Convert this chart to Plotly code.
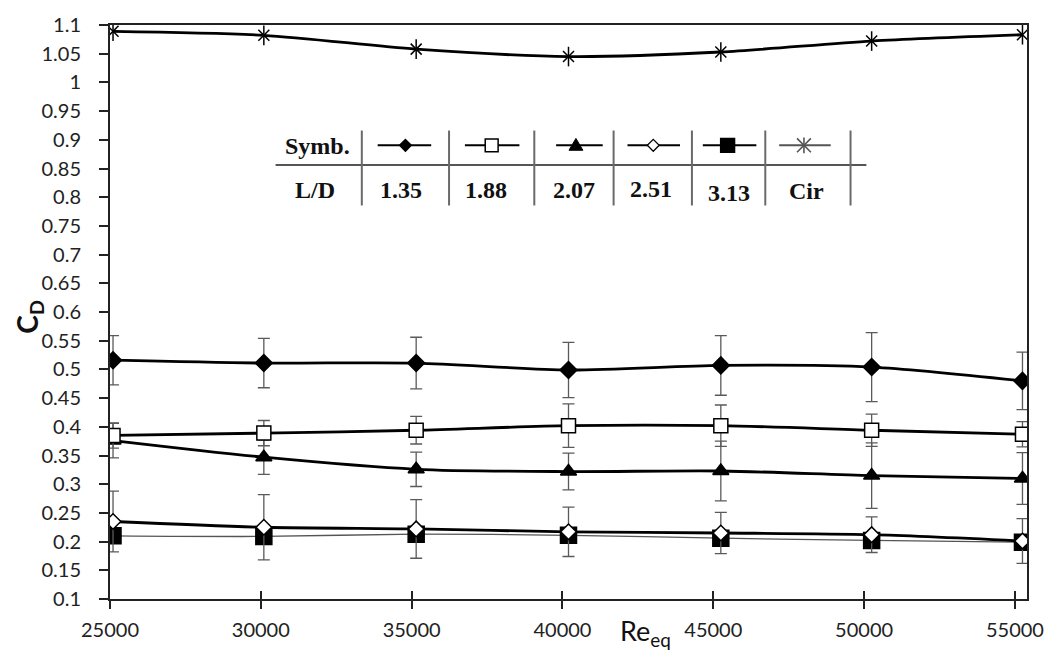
import plotly.graph_objects as go

# ---------------- data ----------------
re_eq = [25100, 30100, 35150, 40200, 45250, 50250, 55250]

cd_135 = [0.516, 0.511, 0.511, 0.499, 0.507, 0.504, 0.480]
err_135 = [0.043, 0.043, 0.045, 0.048, 0.052, 0.060, 0.050]

cd_188 = [0.385, 0.389, 0.394, 0.402, 0.402, 0.394, 0.387]
err_188 = [0.022, 0.022, 0.024, 0.038, 0.036, 0.028, 0.022]

cd_207 = [0.376, 0.347, 0.326, 0.322, 0.323, 0.315, 0.310]
err_207 = [0.030, 0.030, 0.030, 0.032, 0.052, 0.057, 0.045]

cd_251 = [0.235, 0.225, 0.222, 0.217, 0.215, 0.212, 0.201]
err_251 = [0.053, 0.057, 0.051, 0.043, 0.036, 0.031, 0.039]

cd_313 = [0.210, 0.209, 0.213, 0.211, 0.206, 0.202, 0.199]
err_313 = [0.012, 0.012, 0.012, 0.012, 0.012, 0.012, 0.012]

cd_cir = [1.089, 1.082, 1.058, 1.045, 1.053, 1.072, 1.083]

y_ticks = [round(0.1 + 0.05 * i, 2) for i in range(21)]
y_tick_text = ["0.1", "0.15", "0.2", "0.25", "0.3", "0.35", "0.4", "0.45", "0.5",
               "0.55", "0.6", "0.65", "0.7", "0.75", "0.8", "0.85", "0.9", "0.95",
               "1", "1.05", "1.1"]
x_ticks = [25000, 30000, 35000, 40000, 45000, 50000, 55000]
x_tick_text = ["25000", "30000", "35000", "40000", "45000", "50000", "55000"]

legend_kinds = ["diamond", "square-open", "triangle", "diamond-open", "square", "asterisk"]
legend_labels = ["1.35", "1.88", "2.07", "2.51", "3.13", "Cir"]

# ---------------- figure ----------------
W, H = 1056, 653
L, R, T, B = 110, 21, 22, 49
PW, PH = W - L - R, H - T - B


def px(x):
    return (x - L) / PW


def py(y):
    return (H - B - y) / PH


fig = go.Figure()

ERR_COLOR = "#5a5a5a"


def add_series(y, err, symbol, size, fill, lw=2.8, lcolor="black", mlw=1.5):
    eb = None
    if err is not None:
        eb = dict(type="data", array=err, visible=True, color=ERR_COLOR,
                  thickness=1.3, width=6)
    fig.add_trace(go.Scatter(
        x=re_eq, y=y, mode="lines+markers",
        line=dict(color=lcolor, width=lw, shape="spline", smoothing=0.8),
        marker=dict(symbol=symbol, size=size, color=fill,
                    line=dict(color="black", width=mlw)),
        error_y=eb, showlegend=False, hoverinfo="x+y"))


add_series(cd_313, err_313, "square", 16, "black", lw=1.3, lcolor="#555555")
add_series(cd_251, err_251, "diamond", 12, "white", lw=2.8)
add_series(cd_207, err_207, "triangle-up", 14, "black")
add_series(cd_188, err_188, "square", 14, "white")
add_series(cd_135, err_135, "diamond", 13, "black")
# circular cylinder: asterisk built from an x marker + a vertical-line marker
add_series(cd_cir, None, "x-thin-open", 11, "black", lw=2.8, mlw=1.5)
fig.add_trace(go.Scatter(
    x=re_eq, y=cd_cir, mode="markers",
    marker=dict(symbol="line-ns-open", size=14, color="black",
                line=dict(color="black", width=1.5)),
    showlegend=False, hoverinfo="skip"))

TICKFONT = dict(family="Lato, Open Sans, sans-serif", size=20, color="#222222")

fig.update_layout(
    xaxis=dict(range=[25000, 55400], tickvals=x_ticks, ticktext=x_tick_text,
               showgrid=False, zeroline=False, showline=True, linecolor="#222222",
               linewidth=2, mirror=True, ticks="outside", ticklen=8, tickwidth=1.5,
               tickcolor="#222222", tickfont=TICKFONT, ticklabelstandoff=4),
    xaxis2=dict(range=[25000, 55400], tickvals=x_ticks, overlaying="x",
                matches="x", anchor="y", side="bottom", showgrid=False,
                zeroline=False, showline=False, ticks="inside", ticklen=8,
                tickwidth=1.5, tickcolor="#222222", showticklabels=False),
    yaxis=dict(range=[0.1, 1.1], tickvals=y_ticks, ticktext=y_tick_text,
               showgrid=False, zeroline=False, showline=True, linecolor="#222222",
               linewidth=2, mirror=True, ticks="outside", ticklen=9, tickwidth=1.5,
               tickcolor="#222222", tickfont=TICKFONT, ticklabelstandoff=14),
)
# invisible helper trace so the overlay axis (crossing ticks) is drawn
fig.add_trace(go.Scatter(x=[re_eq[0]], y=[cd_313[0]], xaxis="x2", mode="markers",
                         marker=dict(opacity=0), showlegend=False, hoverinfo="skip"))

shapes = []
# legend table lines
shapes.append(dict(type="line", xref="paper", yref="paper",
                   x0=px(277), x1=px(873), y0=py(164), y1=py(164),
                   line=dict(color="#555555", width=2)))
for vx in [364, 452, 538, 618, 697, 771, 857]:
    shapes.append(dict(type="line", xref="paper", yref="paper",
                       x0=px(vx), x1=px(vx), y0=py(129), y1=py(205),
                       line=dict(color="#6a6a6a", width=2)))

seg = [(380, 434), (468, 523), (560, 607), (632, 685), (708, 762), (785, 837)]
cent = [408, 495, 580, 658, 733, 810]
SY = 144


def poly(points):
    return "M " + " L ".join(f"{px(a):.5f},{py(b):.5f}" for a, b in points) + " Z"


for (a, b), c, kind in zip(seg, cent, legend_kinds):
    lc = "#555555" if kind == "asterisk" else "black"
    shapes.append(dict(type="line", xref="paper", yref="paper",
                       x0=px(a), x1=px(b), y0=py(SY), y1=py(SY),
                       line=dict(color=lc, width=2)))
    if kind.startswith("diamond"):
        r = 6
        fill = "white" if kind.endswith("open") else "black"
        shapes.append(dict(type="path", xref="paper", yref="paper",
                           path=poly([(c, SY - r), (c + r, SY), (c, SY + r), (c - r, SY)]),
                           fillcolor=fill, line=dict(color="black", width=1.3)))
    elif kind == "square-open" or kind == "square":
        r = 7 if kind == "square" else 6.5
        fill = "white" if kind == "square-open" else "black"
        shapes.append(dict(type="rect", xref="paper", yref="paper",
                           x0=px(c - r), x1=px(c + r), y0=py(SY - r), y1=py(SY + r),
                           fillcolor=fill, line=dict(color="black", width=1.5)))
    elif kind == "triangle":
        shapes.append(dict(type="path", xref="paper", yref="paper",
                           path=poly([(c, SY - 7), (c + 7, SY + 5), (c - 7, SY + 5)]),
                           fillcolor="black", line=dict(color="black", width=1)))
    else:
        r = 7
        for (x0, y0, x1, y1) in [(c - r, SY - r, c + r, SY + r),
                                 (c - r, SY + r, c + r, SY - r),
                                 (c, SY - r - 1, c, SY + r + 1)]:
            shapes.append(dict(type="line", xref="paper", yref="paper",
                               x0=px(x0), x1=px(x1), y0=py(y0), y1=py(y1),
                               line=dict(color="#555555", width=1.6)))

annotations = []
SERIF = dict(family="Liberation Serif, Times New Roman, serif", size=24, color="#111111")


def ann(text, x, y, font, **kw):
    d = dict(text=text, x=px(x), y=py(y), xref="paper", yref="paper",
             showarrow=False, xanchor="center", yanchor="middle", font=font)
    d.update(kw)
    annotations.append(d)


ann("<b>Symb.</b>", 319, 145, SERIF)
ann("<b>L/D</b>", 317, 189, SERIF)
lab_x = [404, 489, 578, 656, 734, 813]
lab_y = [189, 189, 189, 188, 192, 190]
for lab, lx, ly in zip(legend_labels, lab_x, lab_y):
    ann("<b>" + lab + "</b>", lx, ly, SERIF)

ann("<b>C<sub>D</sub></b>", 28, 318,
    dict(family="Lato, Open Sans, sans-serif", size=28, color="#111111"),
    textangle=-90)
ann("Re<sub>eq</sub>", 650, 638,
    dict(family="Lato, Open Sans, sans-serif", size=27, color="#111111"))

fig.update_layout(
    width=W, height=H, margin=dict(l=L, r=R, t=T, b=B),
    paper_bgcolor="white", plot_bgcolor="white",
    shapes=shapes, annotations=annotations, showlegend=False)

fig.write_html("out.html")
